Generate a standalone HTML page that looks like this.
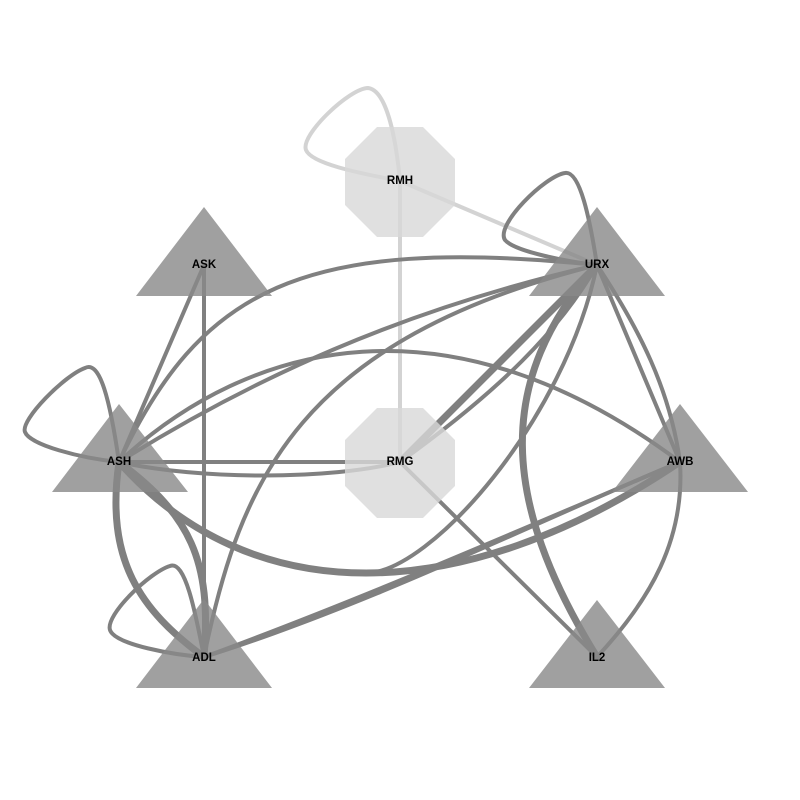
<!DOCTYPE html>
<html><head><meta charset="utf-8"><style>
html,body{margin:0;padding:0;background:#fff;}
svg{display:block;}
text{font-family:"Liberation Sans",sans-serif;font-size:11.5px;font-weight:bold;fill:#000;text-anchor:middle;dominant-baseline:central;}
</style></head><body>
<svg width="800" height="800" viewBox="0 0 800 800">
<g fill="none" stroke="#d3d3d3" stroke-width="4" stroke-linecap="round">
<path d="M400,181 C395,130 385,90 368,88 C350,88 300,135 306,150 C312,165 370,175 400,181"/>
<path d="M400,181 L597,265"/>
<path d="M400,181 L400,462"/>
</g>
<g fill="none" stroke="#808080" stroke-width="4" stroke-linecap="round">
<path d="M119,462 C110,400 100,360 85,368 C65,375 20,420 25,432 C30,445 80,458 119,462"/>
<path d="M204,657 C195,610 185,560 170,566 C150,572 105,615 110,630 C115,645 175,655 204,657"/>
<path d="M597,265 C590,220 580,170 565,173 C545,176 495,225 505,240 C515,252 570,262 597,265"/>
<path d="M119,462 L204,265"/>
<path d="M204,265 L204,657"/>
<path d="M119,462 C200,290 300,235 597,265"/>
<path d="M119,462 C250,380 400,310 597,265"/>
<path d="M119,462 C250,340 450,290 680,462"/>
<path d="M119,462 L400,462"/>
<path d="M119,462 C200,480 330,480 400,462"/>
<path d="M204,657 C240,480 300,340 597,265"/>
<path d="M204,657 C360,600 520,530 680,462"/>
<path d="M204,657 C370,605 540,520 680,462"/>
<path d="M119,462 C184.5,536 269.75,573 366,573 C430,573 565,420 597,265"/>
<path d="M400,462 C500,390 560,330 597,265"/>
<path d="M400,462 L597,657"/>
<path d="M597,265 L680,462"/>
<path d="M597,265 C640,330 670,390 680,462"/>
<path d="M680,462 C685,540 650,600 597,657"/>
</g>
<g fill="none" stroke="#808080" stroke-width="7" stroke-linecap="round">
<path d="M119,462 C105,560 140,610 204,657"/>
<path d="M119,462 C190,515 212,560 204,657"/>
<path d="M119,462 C250,610 460,610 680,462"/>
<path d="M400,462 L597,265"/>
<path d="M597,265 C495,380 500,500 597,657"/>
</g>
<g fill="#888" fill-opacity="0.8">
<polygon points="204,207 272,296 136,296"/>
<polygon points="597,207 665,296 529,296"/>
<polygon points="119,404 188,492 52,492"/>
<polygon points="680,404 748,492 612,492"/>
<polygon points="204,599 272,688 136,688"/>
<polygon points="597,600 665,688 529,688"/>
</g>
<g fill="#d8d8d8" fill-opacity="0.8">
<polygon points="377,127 423,127 455,159 455,205 423,237 377,237 345,205 345,159"/>
<polygon points="377,408 423,408 455,440 455,486 423,518 377,518 345,486 345,440"/>
</g>
<text x="400" y="181">RMH</text>
<text x="400" y="462">RMG</text>
<text x="204" y="265">ASK</text>
<text x="597" y="265">URX</text>
<text x="119" y="462">ASH</text>
<text x="680" y="462">AWB</text>
<text x="204" y="658">ADL</text>
<text x="597" y="658">IL2</text>
</svg>
</body></html>
